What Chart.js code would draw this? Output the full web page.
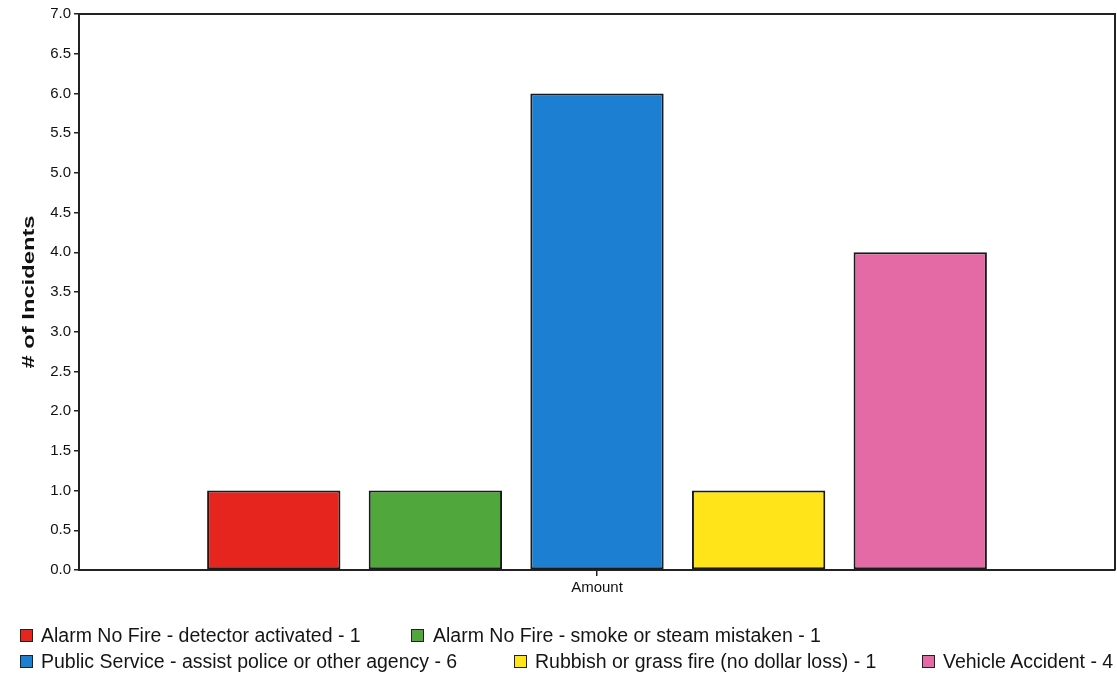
<!DOCTYPE html>
<html>
<head>
<meta charset="utf-8">
<script src="https://cdn.jsdelivr.net/npm/chart.js@4"></script>
<style>
  html, body { margin: 0; padding: 0; background: #fff; overflow: hidden; }
  #wrap { position: relative; width: 1117px; height: 676px; overflow: hidden; }
  #chart { position: absolute; left: 0; top: 0; }
  .lg-box { position: absolute; width: 11px; height: 11px; border: 1px solid #222; }
  .lg-text { position: absolute; white-space: nowrap; font-family: "Liberation Sans", Arial, sans-serif;
             font-size: 19.5px; line-height: 20px; color: #151515; }
</style>
</head>
<body>
<div id="wrap">
  <canvas id="chart" width="1117" height="676"></canvas>
</div>
<script>
// Incident categories and counts
const categories = ['Amount'];
const incidentTypes = [
  'Alarm No Fire - detector activated',
  'Alarm No Fire - smoke or steam mistaken',
  'Public Service - assist police or other agency',
  'Rubbish or grass fire (no dollar loss)',
  'Vehicle Accident'
];
const incidentCounts = [1, 1, 6, 1, 4];
const barColors = ['#e6261e', '#50a83c', '#1d7fd2', '#ffe41a', '#e46aa6'];
const yTickMin = 0, yTickMax = 7, yTickStep = 0.5;
const yAxisTitle = '# of Incidents';

// Legend placement: swatch position and text start
const legendSlots = [
  { x: 20,  y: 629, tx: 41 },  { x: 411, y: 629, tx: 433 },
  { x: 20,  y: 655, tx: 41 },  { x: 514, y: 655, tx: 535 }, { x: 922, y: 655, tx: 943 }
];

// Top/right frame lines and the rotated axis title
const frame = {
  id: 'frame',
  afterDatasetsDraw(chart) {
    const a = chart.chartArea, ctx = chart.ctx;
    ctx.save();
    ctx.strokeStyle = '#222';
    ctx.lineWidth = 2;
    ctx.beginPath();
    ctx.moveTo(a.left, a.top); ctx.lineTo(a.right, a.top); ctx.lineTo(a.right, a.bottom);
    ctx.stroke();
    ctx.restore();
  },
  afterDraw(chart) {
    const a = chart.chartArea, ctx = chart.ctx;
    ctx.save();
    ctx.font = 'bold 17px "Liberation Sans", Arial, sans-serif';
    ctx.fillStyle = '#111';
    const w = ctx.measureText(yAxisTitle).width;
    ctx.translate(34, (a.top + a.bottom) / 2);
    ctx.rotate(-Math.PI / 2);
    ctx.scale(153 / w, 1);
    ctx.textAlign = 'center';
    ctx.textBaseline = 'alphabetic';
    ctx.fillText(yAxisTitle, 0, 0);
    ctx.restore();
  }
};

new Chart(document.getElementById('chart'), {
  type: 'bar',
  data: {
    labels: categories,
    datasets: incidentTypes.map((name, i) => ({
      label: name + ' - ' + incidentCounts[i],
      data: [incidentCounts[i]],
      backgroundColor: barColors[i],
      borderColor: '#1a1a1a',
      borderWidth: 2,
      borderSkipped: false,
      categoryPercentage: 0.78,
      barPercentage: 0.825
    }))
  },
  options: {
    responsive: false,
    animation: false,
    layout: { padding: { left: 0, top: 14, right: 2, bottom: 0 } },
    plugins: { legend: { display: false }, tooltip: { enabled: false } },
    scales: {
      x: {
        offset: true,
        grid: { display: true, offset: false, drawOnChartArea: false, drawTicks: true, tickLength: 6, color: '#222', lineWidth: 1.5 },
        border: { display: true, color: '#222', width: 2 },
        ticks: { color: '#111', font: { family: 'Liberation Sans', size: 15 }, padding: 3 },
        afterFit(s) { s.height = 106; }
      },
      y: {
        min: yTickMin, max: yTickMax,
        grid: { display: true, drawOnChartArea: false, drawTicks: true, tickLength: 5, color: '#222', lineWidth: 1.5 },
        border: { display: true, color: '#222', width: 2 },
        ticks: {
          stepSize: yTickStep,
          color: '#111',
          font: { family: 'Liberation Sans', size: 15 },
          padding: 3,
          callback: v => Number(v).toFixed(1)
        },
        afterFit(s) { s.width = 79; }
      }
    }
  },
  plugins: [frame]
});

// HTML legend built from the same series
const wrap = document.getElementById('wrap');
incidentTypes.forEach((name, i) => {
  const slot = legendSlots[i];
  const sw = document.createElement('div');
  sw.className = 'lg-box';
  sw.style.left = slot.x + 'px';
  sw.style.top = slot.y + 'px';
  sw.style.background = barColors[i];
  wrap.appendChild(sw);
  const t = document.createElement('div');
  t.className = 'lg-text';
  t.style.left = slot.tx + 'px';
  t.style.top = (slot.y - 4) + 'px';
  t.textContent = name + ' - ' + incidentCounts[i];
  wrap.appendChild(t);
});
</script>
</body>
</html>
